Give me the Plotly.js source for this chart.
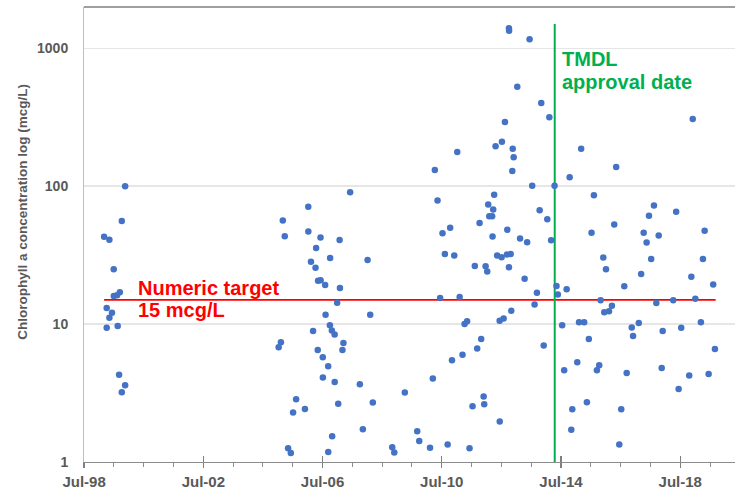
<!DOCTYPE html>
<html>
<head>
<meta charset="utf-8">
<script src="https://cdn.plot.ly/plotly-3.0.1.min.js"></script>
<style>
  html, body { margin: 0; padding: 0; background: #ffffff; }
  #chart { width: 735px; height: 489px; }
</style>
</head>
<body>
<div id="chart"></div>
<script>
// ---- Data ----
const sampleDates = [
  // 1999
  '1999-03-03','1999-05-07','1999-11-16','1999-10-06','1999-06-29','1999-06-30','1999-08-09','1999-09-12',
  '1999-04-04','1999-06-08','1999-05-07','1999-04-04','1999-08-17','1999-09-03','1999-11-16','1999-10-06',
  // 2005-2009
  '2007-06-04','2006-01-07','2005-03-01','2006-01-08','2005-03-25','2006-06-06','2007-01-26','2006-04-13',
  '2006-10-02','2008-01-04','2006-02-09','2006-04-06','2006-05-07','2006-06-07','2006-08-02','2007-01-30',
  '2006-12-27','2006-08-07','2008-02-05','2006-09-29','2006-10-23','2006-11-26','2006-03-07','2007-03-14',
  '2007-03-02','2005-02-06','2005-01-09','2006-05-03','2006-07-04','2006-09-08','2006-07-05','2006-11-27',
  '2007-10-01','2009-04-04','2005-08-11','2007-01-09','2008-03-08','2005-07-05','2005-11-27','2007-11-07',
  '2006-10-27','2009-09-03','2009-09-28','2005-05-05','2005-06-07','2006-09-09','2008-11-01','2008-11-26',
  // 2010-2014
  '2012-10-01','2012-10-03','2013-06-11','2013-01-11','2013-11-01','2014-02-08','2012-08-13','2012-07-07',
  '2012-04-20','2012-11-16','2012-11-28','2012-11-11','2011-01-07','2010-04-07','2013-07-13','2014-04-13',
  '2012-04-03','2010-05-10','2012-01-21','2012-03-22','2012-02-03','2012-03-09','2013-10-12','2014-01-14',
  '2011-10-07','2010-10-12','2010-07-10','2012-09-11','2012-03-14','2013-02-14','2013-05-12','2014-03-02',
  '2010-08-08','2010-12-01','2012-05-10','2012-07-03','2012-09-07','2012-10-22','2011-08-10','2011-12-20',
  '2012-01-09','2012-10-01','2013-04-11','2014-05-07','2014-05-23','2013-09-09','2013-08-11','2010-06-11',
  '2011-02-05','2012-10-29','2012-06-09','2012-07-28','2011-04-06','2011-05-07','2013-12-01','2011-10-27',
  '2011-09-08','2011-03-12','2010-11-03','2010-03-13','2011-11-26','2011-12-03','2011-07-13','2012-06-10',
  '2010-02-07','2010-09-11','2011-06-06',
  // 2014-2019
  '2018-12-01','2015-03-05','2016-05-07','2014-10-15','2015-08-08','2017-08-13','2018-05-12','2017-06-13',
  '2016-04-13','2019-04-26','2017-04-09','2015-07-10','2017-10-10','2017-05-15','2015-12-01','2019-04-05',
  '2017-07-10','2016-01-03','2017-03-09','2018-11-14','2019-08-09','2016-08-14','2014-09-08','2015-10-29',
  '2018-04-06','2019-01-02','2017-09-11','2016-03-16','2015-12-13','2016-02-09','2014-07-15','2015-02-07',
  '2015-04-11','2017-02-08','2016-11-14','2016-11-30','2017-11-28','2018-07-13','2019-03-11','2015-06-07',
  '2019-08-30','2015-01-16','2015-10-12','2015-09-14','2014-08-09','2016-09-13','2017-11-16','2018-10-19',
  '2019-06-14','2018-06-11','2015-05-14','2014-11-16','2016-07-08','2014-11-04','2016-06-14'
];
const chlaValues = [
  // 1999
  43, 41, 100, 56, 25, 16, 16.2, 17,
  13.1, 12.1, 11.1, 9.4, 9.7, 4.3, 3.6, 3.2,
  // 2005-2009
  90.6, 71, 56.5, 47, 43.4, 42.5, 40.8, 35.7,
  30.2, 29.2, 28.3, 25.6, 20.6, 20.8, 19.2, 18.3,
  14.3, 11.7, 11.7, 9.8, 9.0, 8.4, 8.9, 7.3,
  6.5, 7.4, 6.8, 6.5, 5.75, 4.95, 4.1, 3.8,
  3.66, 3.19, 2.85, 2.64, 2.7, 2.29, 2.42, 1.73,
  1.54, 1.67, 1.42, 1.26, 1.16, 1.18, 1.28, 1.17,
  // 2010-2014
  1397, 1342, 1162, 526, 401, 316, 292, 210,
  195, 187, 162, 129, 177, 131, 101, 101,
  86.6, 78.9, 73.8, 67.9, 60.7, 60.7, 67.1, 57.7,
  54.2, 49.9, 45.7, 48.3, 43.2, 41.8, 39.3, 40.6,
  32.2, 31.5, 31.5, 30.6, 32.0, 32.2, 26.4, 26.3,
  24.1, 25.9, 21.3, 18.9, 16.4, 16.9, 13.9, 15.5,
  15.7, 12.5, 10.6, 11.0, 10.0, 10.5, 7.0, 7.8,
  6.65, 6.0, 5.47, 4.03, 2.98, 2.62, 2.54, 1.97,
  1.27, 1.34, 1.26,
  // 2014-2019
  308, 187, 138, 116, 86.1, 72.6, 65.2, 61,
  52.8, 47.5, 45.9, 45.9, 43.9, 39.1, 30.4, 29.7,
  29.7, 25.0, 23.1, 22.1, 19.4, 18.8, 17.9, 14.9,
  14.9, 15.3, 14.2, 13.6, 12.2, 12.4, 9.8, 10.3,
  10.3, 10.2, 9.45, 8.2, 8.9, 9.4, 10.3, 7.8,
  6.6, 5.3, 5.03, 4.63, 4.63, 4.42, 4.81, 4.24,
  4.35, 3.39, 2.71, 2.41, 2.41, 1.71, 1.34
];

const numericTarget = 15;                       // mcg/L
const targetLineDates = ['1999-03-03', '2019-09-08'];
const tmdlDate = '2014-04-15';
const tmdlLineValues = [1, 1500];
const yTickVals = [1, 10, 100, 1000];
const yTickText = ['1', '10', '100', '1000'];
const xRange = ['1998-06-30', '2020-05-02'];
const yRangeLog = [0, 3.3];

const FONT = 'Liberation Sans, Arial, sans-serif';
const GRAY = '#595959';

const traces = [
  {
    x: targetLineDates, y: [numericTarget, numericTarget],
    type: 'scatter', mode: 'lines',
    line: { color: '#FF0000', width: 1.6 },
    hoverinfo: 'skip', showlegend: false
  },
  {
    x: [tmdlDate, tmdlDate], y: tmdlLineValues,
    type: 'scatter', mode: 'lines',
    line: { color: '#00B050', width: 2 },
    hoverinfo: 'skip', showlegend: false
  },
  {
    x: sampleDates, y: chlaValues,
    type: 'scatter', mode: 'markers',
    marker: { color: '#4472C4', size: 6.5 },
    name: 'Chlorophyll a', showlegend: false
  },
  { x: [], y: [], xaxis: 'x2', type: 'scatter', showlegend: false }
];

const layout = {
  width: 735, height: 489,
  margin: { l: 84, r: 0, t: 7, b: 27 },
  paper_bgcolor: '#ffffff', plot_bgcolor: '#ffffff',
  font: { family: FONT, color: GRAY },
  showlegend: false,
  xaxis: {
    type: 'date', range: xRange,
    tick0: '1998-07-01', dtick: 'M48', tickformat: '%b-%y',
    ticks: 'outside', ticklen: 5, tickwidth: 1.2, tickcolor: '#7f7f7f',
    showline: true, linecolor: '#8c8c8c', linewidth: 1.2,
    showgrid: false, zeroline: false,
    tickfont: { family: FONT, size: 15, color: GRAY, weight: 'bold' },
    ticklabelstandoff: 1,
    minor: { dtick: 'M12', tick0: '1998-07-01', ticks: 'outside', ticklen: 4, tickcolor: '#8c8c8c', tickwidth: 1, showgrid: false }
  },
  xaxis2: {
    type: 'date', overlaying: 'x', matches: 'x', side: 'bottom', anchor: 'y',
    tick0: '1998-07-01', dtick: 'M48',
    ticks: 'inside', ticklen: 6, tickwidth: 1.2, tickcolor: '#7f7f7f',
    showticklabels: false, showline: false, showgrid: false, zeroline: false
  },
  yaxis: {
    type: 'log', range: yRangeLog,
    tickvals: yTickVals, ticktext: yTickText,
    ticks: '', ticklabelstandoff: 12,
    showline: true, linecolor: '#bfbfbf', linewidth: 1,
    showgrid: true, gridcolor: '#e6e6e6', gridwidth: 1.5,
    zeroline: false,
    tickfont: { family: FONT, size: 14, color: GRAY, weight: 'bold' }
  },
  shapes: [
    { type: 'line', xref: 'paper', yref: 'paper', x0: 0, x1: 1, y0: 1, y1: 1,
      line: { color: '#404040', width: 1.2 } }
  ],
  annotations: [
    { text: 'Chlorophyll a concentration log (mcg/L)', textangle: -90,
      xref: 'paper', yref: 'paper', x: 0, xshift: -61, xanchor: 'center',
      y: 0.55, yanchor: 'middle', showarrow: false,
      font: { family: FONT, size: 13.5, color: GRAY, weight: 'bold' } },
    { text: 'Numeric target', xref: 'paper', yref: 'paper', x: 0.08, xanchor: 'left',
      y: 0.383, yanchor: 'middle', showarrow: false,
      font: { family: FONT, size: 20, color: '#FF0000', weight: 'bold' } },
    { text: '15 mcg/L', xref: 'paper', yref: 'paper', x: 0.08, xanchor: 'left',
      y: 0.334, yanchor: 'middle', showarrow: false,
      font: { family: FONT, size: 20, color: '#FF0000', weight: 'bold' } },
    { text: 'TMDL', xref: 'x', yref: 'paper', x: tmdlDate, xshift: 5, xanchor: 'left',
      y: 0.8868, yanchor: 'middle', showarrow: false,
      font: { family: FONT, size: 20, color: '#00B050', weight: 'bold' } },
    { text: 'approval date', xref: 'x', yref: 'paper', x: tmdlDate, xshift: 5, xanchor: 'left',
      y: 0.8362, yanchor: 'middle', showarrow: false,
      font: { family: FONT, size: 20, color: '#00B050', weight: 'bold' } }
  ]
};

Plotly.newPlot('chart', traces, layout, { displayModeBar: false, staticPlot: true });
</script>
</body>
</html>
